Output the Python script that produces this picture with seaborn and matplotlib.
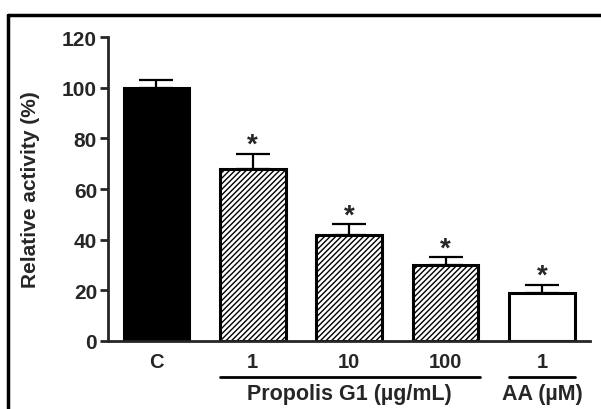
import seaborn as sns
import matplotlib.pyplot as plt
import pandas as pd
from matplotlib.lines import Line2D

# data
groups = ["C", "1", "10", "100", "AA1"]
tick_labels = ["C", "1", "10", "100", "1"]
activity = [100, 68, 42, 30, 19]
sem = [3, 6, 4, 3, 3]
signif = [False, True, True, True, True]

df = pd.DataFrame({"group": groups, "activity": activity})

sns.set_style("ticks")
plt.rcParams["font.family"] = ["Liberation Sans", "DejaVu Sans"]
plt.rcParams["font.weight"] = "bold"
plt.rcParams["hatch.linewidth"] = 1.0

fig = plt.figure(figsize=(6.01, 4.10), dpi=100)
ax = fig.add_axes([0.18, 0.166, 0.802, 0.741])

sns.barplot(data=df, x="group", y="activity", width=0.68, color="white",
            edgecolor="black", linewidth=2.2, ax=ax, errorbar=None, zorder=2)

fills = ["black", "white", "white", "white", "white"]
hatches = ["", "//////", "//////", "//////", ""]
for p, fc, h in zip(ax.patches, fills, hatches):
    p.set_facecolor(fc)
    p.set_hatch(h)

# upper error bars only
xs = range(len(groups))
ax.errorbar(xs, activity, yerr=[[0] * len(sem), sem], fmt="none",
            ecolor="black", elinewidth=1.6, capsize=12, capthick=1.6, zorder=1)

for x, v, e, s in zip(xs, activity, sem, signif):
    if s:
        ax.text(x, v + e - 1.5, "*", ha="center", va="bottom", fontsize=20,
                fontweight="bold")

ax.set_xlim(-0.5, 4.5)
ax.set_ylim(0, 120)
ax.set_yticks(range(0, 121, 20))
ax.set_xticks(list(xs))
ax.set_xticklabels(tick_labels)
ax.set_xlabel("")
ax.set_ylabel("Relative activity (%)", fontsize=15, fontweight="bold",
              labelpad=16)
ax.tick_params(axis="y", labelsize=15, width=2, length=6, pad=2)
ax.tick_params(axis="x", labelsize=14.5, length=0, pad=8)
for lab in ax.get_xticklabels() + ax.get_yticklabels():
    lab.set_fontweight("bold")
sns.despine(ax=ax)
ax.spines["left"].set_linewidth(2)
ax.spines["bottom"].set_linewidth(2)

# group brackets under the tick labels
trans = ax.get_xaxis_transform()
ax.plot([0.66, 3.36], [-0.118, -0.118], color="black", lw=2,
        transform=trans, clip_on=False)
ax.plot([3.66, 4.34], [-0.118, -0.118], color="black", lw=2,
        transform=trans, clip_on=False)
ax.text(2.0, -0.14, "Propolis G1 (\u00b5g/mL)", transform=trans, ha="center",
        va="top", fontsize=15.5, fontweight="bold")
ax.text(4.0, -0.14, "AA (\u00b5M)", transform=trans, ha="center",
        va="top", fontsize=15.5, fontweight="bold")

# frame lines along top and left of the picture
fig.add_artist(Line2D([0.013, 1.0], [0.961, 0.961], color="black", lw=2.5))
fig.add_artist(Line2D([0.013, 0.013], [0.0, 0.961], color="black", lw=2.5))

fig.savefig("out.png", dpi=100)
